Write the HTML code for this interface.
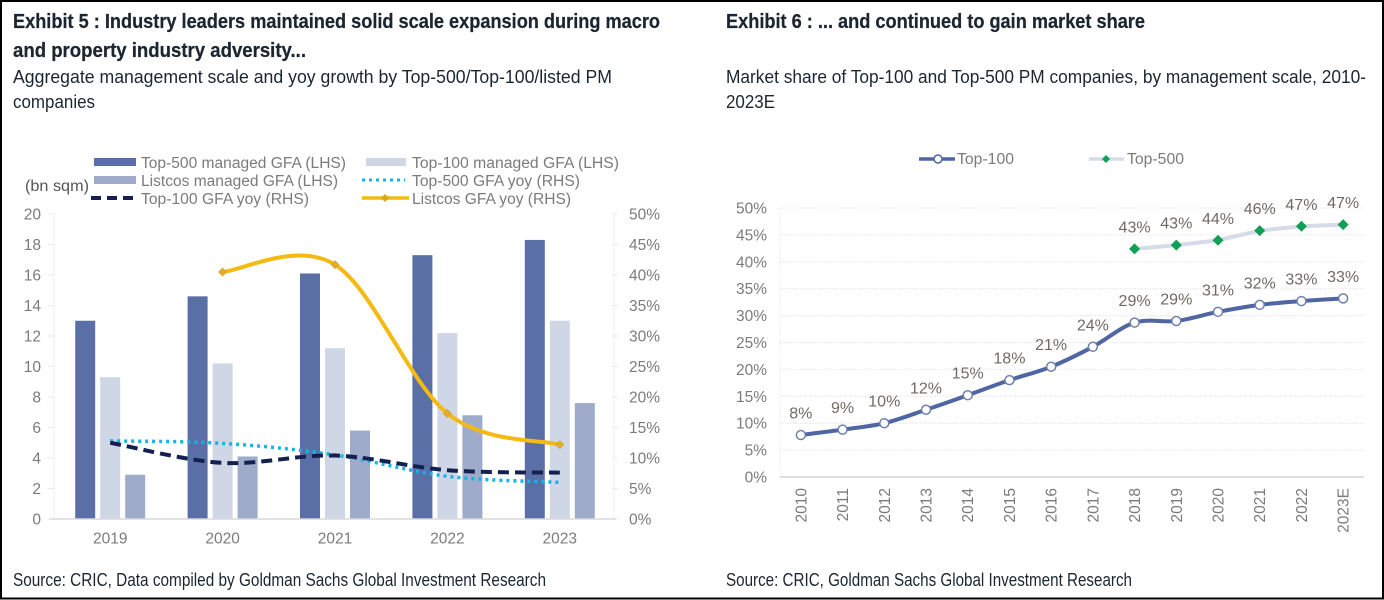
<!DOCTYPE html>
<html lang="en">
<head>
<meta charset="utf-8">
<title>Exhibit 5 and Exhibit 6</title>
<style>
html,body{margin:0;padding:0;background:#fff;}
body{width:1384px;height:600px;overflow:hidden;}
svg{display:block;}
text{font-family:"Liberation Sans",sans-serif;}
.head{font-family:"Liberation Sans Narrow","Liberation Sans",sans-serif;fill:#1c2630;}
.title{font-size:20.5px;font-weight:700;stroke:#1c2630;stroke-width:0.25px;}
.sub{font-size:18.5px;}
.axis{font-size:15.5px;fill:#7b7b7b;}
.leg{font-size:15.5px;fill:#7b7b7b;}
.lab{font-size:16px;fill:#6f6a64;}
</style>
</head>
<body>
<svg id="page" xmlns="http://www.w3.org/2000/svg" width="1384" height="600" viewBox="0 0 1384 600">
  <rect x="0" y="0" width="1384" height="600" fill="#fff"/>

  <text class="head title" x="13" y="28" textLength="647" lengthAdjust="spacingAndGlyphs">Exhibit 5 : Industry leaders maintained solid scale expansion during macro</text>
  <text class="head title" x="13" y="57" textLength="293" lengthAdjust="spacingAndGlyphs">and property industry adversity...</text>
  <text class="head sub" x="13" y="83" textLength="599" lengthAdjust="spacingAndGlyphs">Aggregate management scale and yoy growth by Top-500/Top-100/listed PM</text>
  <text class="head sub" x="13" y="108" textLength="82" lengthAdjust="spacingAndGlyphs">companies</text>
  <text class="head sub" x="13" y="586" textLength="533" lengthAdjust="spacingAndGlyphs">Source: CRIC, Data compiled by Goldman Sachs Global Investment Research</text>

  <text class="head title" x="726" y="28" textLength="419" lengthAdjust="spacingAndGlyphs">Exhibit 6 : ... and continued to gain market share</text>
  <text class="head sub" x="726" y="83" textLength="640" lengthAdjust="spacingAndGlyphs">Market share of Top-100 and Top-500 PM companies, by management scale, 2010-</text>
  <text class="head sub" x="726" y="108" textLength="49" lengthAdjust="spacingAndGlyphs">2023E</text>
  <text class="head sub" x="726" y="586" textLength="406" lengthAdjust="spacingAndGlyphs">Source: CRIC, Goldman Sachs Global Investment Research</text>

  <g id="legend-5">
    <rect x="94" y="158" width="42" height="8" fill="#5a6fa6"/>
    <text class="leg" x="141" y="168" textLength="205" lengthAdjust="spacingAndGlyphs">Top-500 managed GFA (LHS)</text>
    <rect x="366" y="158" width="40" height="8" fill="#cfd6e6"/>
    <text class="leg" x="412" y="168" textLength="207" lengthAdjust="spacingAndGlyphs">Top-100 managed GFA (LHS)</text>
    <rect x="94" y="176" width="42" height="8" fill="#9eabcb"/>
    <text class="leg" x="141" y="186" textLength="197" lengthAdjust="spacingAndGlyphs">Listcos managed GFA (LHS)</text>
    <line x1="362" y1="180" x2="405" y2="180" stroke="#16b4e6" stroke-width="3" stroke-dasharray="3 4"/>
    <text class="leg" x="412" y="186" textLength="168" lengthAdjust="spacingAndGlyphs">Top-500 GFA yoy (RHS)</text>
    <line x1="91" y1="198" x2="134" y2="198" stroke="#14204f" stroke-width="4" stroke-dasharray="10 6"/>
    <text class="leg" x="141" y="204" textLength="168" lengthAdjust="spacingAndGlyphs">Top-100 GFA yoy (RHS)</text>
    <line x1="362" y1="198" x2="409" y2="198" stroke="#f4b912" stroke-width="3.5"/>
    <polygon points="385,194 389,198 385,202 381,198" fill="#d8a520"/>
    <text class="leg" x="412" y="204" textLength="159" lengthAdjust="spacingAndGlyphs">Listcos GFA yoy (RHS)</text>
    <text class="leg" x="25" y="191" textLength="64" lengthAdjust="spacingAndGlyphs" style="fill:#555">(bn sqm)</text>
  </g>

  <g id="legend-6">
    <line x1="919" y1="159" x2="955" y2="159" stroke="#4f66a3" stroke-width="3.5"/>
    <circle cx="938" cy="159" r="4" fill="#fff" stroke="#4f66a3" stroke-width="1.5"/>
    <text class="leg" x="957" y="164" textLength="57" lengthAdjust="spacingAndGlyphs">Top-100</text>
    <line x1="1089" y1="159" x2="1124" y2="159" stroke="#d5dbe9" stroke-width="3.5"/>
    <polygon points="1106,155 1110,159 1106,163 1102,159" fill="#0f9f55"/>
    <text class="leg" x="1127" y="164" textLength="57" lengthAdjust="spacingAndGlyphs">Top-500</text>
  </g>

  <g id="chart5"></g>
  <g id="chart6"></g>

  <rect x="1" y="1" width="1382" height="597.5" fill="none" stroke="#000" stroke-width="2"/>
</svg>

<script>
// Exhibit 5 data
const years5 = ['2019', '2020', '2021', '2022', '2023'];
const top500Gfa = [13, 14.6, 16.1, 17.3, 18.3];
const top100Gfa = [9.3, 10.2, 11.2, 12.2, 13];
const listcosGfa = [2.9, 4.1, 5.8, 6.8, 7.6];
const top500Yoy = [12.8, 12.4, 10.5, 7, 6];
const top100Yoy = [12.5, 9.2, 10.4, 8, 7.6];
const listcosYoy = [null, 40.5, 41.7, 17.3, 12.2];
const leftTicks = [0, 2, 4, 6, 8, 10, 12, 14, 16, 18, 20];
const rightTicks = [0, 5, 10, 15, 20, 25, 30, 35, 40, 45, 50];

// Exhibit 6 data
const years6 = ['2010', '2011', '2012', '2013', '2014', '2015', '2016', '2017', '2018', '2019', '2020', '2021', '2022', '2023E'];
const top100Share = [7.8, 8.8, 10, 12.5, 15.2, 18, 20.5, 24.2, 28.7, 29, 30.7, 32, 32.7, 33.2];
const top500Share = [null, null, null, null, null, null, null, null, 42.4, 43.1, 44, 45.8, 46.6, 46.9];
const top100Labels = ['8%', '9%', '10%', '12%', '15%', '18%', '21%', '24%', '29%', '29%', '31%', '32%', '33%', '33%'];
const top500Labels = ['', '', '', '', '', '', '', '', '43%', '43%', '44%', '46%', '47%', '47%'];
const shareTicks = [0, 5, 10, 15, 20, 25, 30, 35, 40, 45, 50];

const NS = 'http://www.w3.org/2000/svg';
function mk(parent, tag, attrs, txt) {
  const e = document.createElementNS(NS, tag);
  for (const k in attrs) e.setAttribute(k, attrs[k]);
  if (txt !== undefined) e.textContent = txt;
  parent.appendChild(e);
  return e;
}
function smooth(pts) {
  let d = 'M' + pts[0][0] + ' ' + pts[0][1];
  for (let i = 0; i < pts.length - 1; i++) {
    const p0 = pts[i - 1] || pts[i], p1 = pts[i], p2 = pts[i + 1], p3 = pts[i + 2] || p2;
    const c1x = p1[0] + (p2[0] - p0[0]) / 6, c1y = p1[1] + (p2[1] - p0[1]) / 6;
    const c2x = p2[0] - (p3[0] - p1[0]) / 6, c2y = p2[1] - (p3[1] - p1[1]) / 6;
    d += ' C' + c1x + ' ' + c1y + ' ' + c2x + ' ' + c2y + ' ' + p2[0] + ' ' + p2[1];
  }
  return d;
}
function straight(pts) {
  return pts.map((p, i) => (i ? 'L' : 'M') + p[0] + ' ' + p[1]).join(' ');
}

// ---------- Exhibit 5 ----------
const c5 = document.getElementById('chart5');
const x5Left = 54, x5Right = 616, y5Base = 519, y5Top = 214;
const band5 = (x5Right - x5Left) / years5.length;
const x5 = i => x5Left + band5 * (i + 0.5);
const yL = v => y5Base - (v / 20) * (y5Base - y5Top);
const yR = v => y5Base - (v / 50) * (y5Base - y5Top);
const barW = 20, barStep = 25;

leftTicks.forEach(t => {
  const label = mk(c5, 'text', {class: 'axis', x: 41, y: yL(t) + 5.5, 'text-anchor': 'end'}, String(t));
  
  
  const tick = mk(c5, 'line', {x1: 48, x2: 54, y1: yL(t), y2: yL(t), stroke: '#e8e8e8', 'stroke-width': 1});
  
  
});
rightTicks.forEach(t => {
  const label = mk(c5, 'text', {class: 'axis', x: 629, y: yR(t) + 5.5}, t + '%');
  
  
  const tick = mk(c5, 'line', {x1: 612, x2: 618, y1: yR(t), y2: yR(t), stroke: '#e8e8e8', 'stroke-width': 1});
  
  
});
const axisL = mk(c5, 'line', {x1: 54, x2: 54, y1: y5Top, y2: y5Base, stroke: '#efefef', 'stroke-width': 1});


const axisR = mk(c5, 'line', {x1: 614, x2: 614, y1: y5Top, y2: y5Base, stroke: '#efefef', 'stroke-width': 1});



const barSeries = [[top500Gfa, '#5a6fa6', -1], [top100Gfa, '#cfd6e6', 0], [listcosGfa, '#9eabcb', 1]];
barSeries.forEach(s => {
  s[0].forEach((v, i) => {
    const b = mk(c5, 'rect', {x: x5(i) + s[2] * barStep - barW / 2, y: yL(v), width: barW, height: y5Base - yL(v), fill: s[1]});
    
    
  });
});
const base5 = mk(c5, 'line', {x1: 50, x2: 616, y1: y5Base, y2: y5Base, stroke: '#d9d9d9', 'stroke-width': 1.5});


years5.forEach((t, i) => {
  const label = mk(c5, 'text', {class: 'axis', x: x5(i), y: 543.5, 'text-anchor': 'middle'}, t);
  
  
});

function pts5(arr) {
  const out = [];
  arr.forEach((v, i) => { if (v !== null) out.push([x5(i), yR(v)]); });
  return out;
}
const line500 = mk(c5, 'path', {d: smooth(pts5(top500Yoy)), fill: 'none', stroke: '#16b4e6', 'stroke-width': 3.5, 'stroke-dasharray': '3 4'});


const line100 = mk(c5, 'path', {d: smooth(pts5(top100Yoy)), fill: 'none', stroke: '#14204f', 'stroke-width': 4, 'stroke-dasharray': '11 6'});


const lineList = mk(c5, 'path', {d: smooth(pts5(listcosYoy)), fill: 'none', stroke: '#f4b912', 'stroke-width': 4});


pts5(listcosYoy).forEach(p => {
  const m = mk(c5, 'polygon', {points: [[p[0], p[1] - 4], [p[0] + 4, p[1]], [p[0], p[1] + 4], [p[0] - 4, p[1]]].join(' '), fill: '#e6ae1c', stroke: '#c9a04a', 'stroke-width': 0.7});
  
  
});

// ---------- Exhibit 6 ----------
const c6 = document.getElementById('chart6');
const x6Left = 780, x6Right = 1364, y6Base = 477, y6Top = 208;
const band6 = (x6Right - x6Left) / years6.length;
const x6 = i => x6Left + band6 * (i + 0.5);
const y6 = v => y6Base - (v / 50) * (y6Base - y6Top);

shareTicks.forEach(t => {
  const g = mk(c6, 'line', t === 0
    ? {x1: x6Left, x2: x6Right, y1: y6(t), y2: y6(t), stroke: '#d4d4d4', 'stroke-width': 1.5}
    : {x1: x6Left, x2: x6Right, y1: y6(t), y2: y6(t), stroke: '#dcdcdc', 'stroke-width': 1, 'stroke-dasharray': '1 1.5'});
  
  
  const label = mk(c6, 'text', {class: 'axis', x: 767, y: y6(t) + 5.5, 'text-anchor': 'end'}, t + '%');
  
  
});
const leftAxis6 = mk(c6, 'line', {x1: x6Left, x2: x6Left, y1: y6Top, y2: y6Base, stroke: '#e4e4e4', 'stroke-width': 1, 'stroke-dasharray': '1 1.5'});



years6.forEach((t, i) => {
  const label = mk(c6, 'text', {class: 'axis', 'text-anchor': 'end', transform: 'translate(' + (x6(i) + 5.5) + ' 488) rotate(-90)'}, t);
  
  
});

function pts6(arr) {
  const out = [];
  arr.forEach((v, i) => { if (v !== null) out.push([x6(i), y6(v)]); });
  return out;
}
const share500 = mk(c6, 'path', {d: straight(pts6(top500Share)), fill: 'none', stroke: '#d5dbe9', 'stroke-width': 4});


pts6(top500Share).forEach(p => {
  const m = mk(c6, 'polygon', {points: [[p[0], p[1] - 5.5], [p[0] + 5.5, p[1]], [p[0], p[1] + 5.5], [p[0] - 5.5, p[1]]].join(' '), fill: '#0f9f55'});
  
  
});
const share100 = mk(c6, 'path', {d: smooth(pts6(top100Share)), fill: 'none', stroke: '#4f66a3', 'stroke-width': 4});


pts6(top100Share).forEach(p => {
  const m = mk(c6, 'circle', {cx: p[0], cy: p[1], r: 4.5, fill: '#fff', stroke: '#6f80ad', 'stroke-width': 1.5});
  
  
});
top100Share.forEach((v, i) => {
  const label = mk(c6, 'text', {class: 'lab', x: x6(i), y: y6(v) - 16.5, 'text-anchor': 'middle'}, top100Labels[i]);
  
  
});
top500Share.forEach((v, i) => {
  if (v === null) return;
  const label = mk(c6, 'text', {class: 'lab', x: x6(i), y: y6(v) - 16.5, 'text-anchor': 'middle'}, top500Labels[i]);
  
  
});
</script>
</body>
</html>
